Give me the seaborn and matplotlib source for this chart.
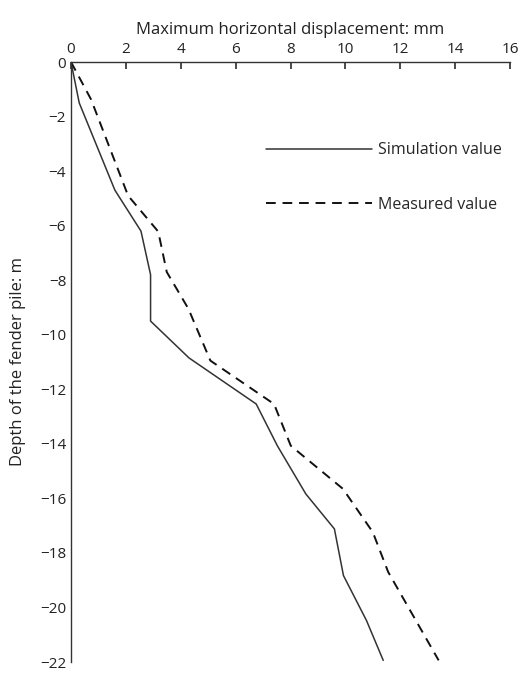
import matplotlib
matplotlib.use("Agg")
import matplotlib.pyplot as plt
import seaborn as sns
import pandas as pd

sim_x = [0, 0.3, 1.6, 2.55, 2.9, 2.9, 4.3, 6.75, 7.52, 8.56, 9.6, 9.93, 10.77, 11.38]
sim_y = [0, -1.5, -4.7, -6.2, -7.8, -9.5, -10.85, -12.54, -14.07, -15.84, -17.12, -18.83, -20.48, -21.94]
mea_x = [0, 0.73, 2.08, 3.18, 3.49, 4.28, 5.08, 7.4, 8.01, 9.91, 11.0, 11.56, 13.4]
mea_y = [0, -1.37, -4.9, -6.22, -7.7, -9.05, -10.95, -12.54, -14.07, -15.65, -17.24, -18.7, -21.94]

sns.set_theme(style="white")
plt.rcParams['font.family'] = ['Open Sans', 'DejaVu Sans']

fig = plt.figure(figsize=(5.2, 6.74), dpi=100)
ax = fig.add_axes([71/520, 12/674, 439/520, 600/674])
sim = pd.DataFrame({"x": sim_x, "y": sim_y})
mea = pd.DataFrame({"x": mea_x, "y": mea_y})
sns.lineplot(data=sim, x="x", y="y", sort=False, estimator=None, ax=ax, color="#333333", lw=1.1, label="Simulation value")
sns.lineplot(data=mea, x="x", y="y", sort=False, estimator=None, ax=ax, color="#111111", lw=1.4, ls=(0, (5, 3.5)), label="Measured value")

ax.set_xlim(0, 16)
ax.set_ylim(-22, 0)
ax.set_xticks(range(0, 17, 2))
ax.set_yticks(range(-22, 1, 2))
ax.set_yticklabels([str(v).replace('-', '−') for v in range(-22, 1, 2)])
ax.xaxis.tick_top()
ax.xaxis.set_label_position('top')
for s in ['bottom', 'right']:
    ax.spines[s].set_visible(False)
for s in ['top', 'left']:
    ax.spines[s].set_color('#333333')
    ax.spines[s].set_linewidth(1.0)
ax.tick_params(direction='in', length=5, color='#333333', labelsize=11, labelcolor='#222222')
ax.set_xlabel("Maximum horizontal displacement: mm", fontsize=12, color='#222222', labelpad=6)
ax.set_ylabel("Depth of the fender pile: m", fontsize=12, color='#222222', labelpad=10)
ax.legend(loc='upper left', bbox_to_anchor=(252/520, 1 - 128/674), bbox_transform=fig.transFigure,
          frameon=False, handlelength=6.6, handletextpad=0.4, labelspacing=2.4, fontsize=11.5)
fig.savefig("out.png", dpi=100)
